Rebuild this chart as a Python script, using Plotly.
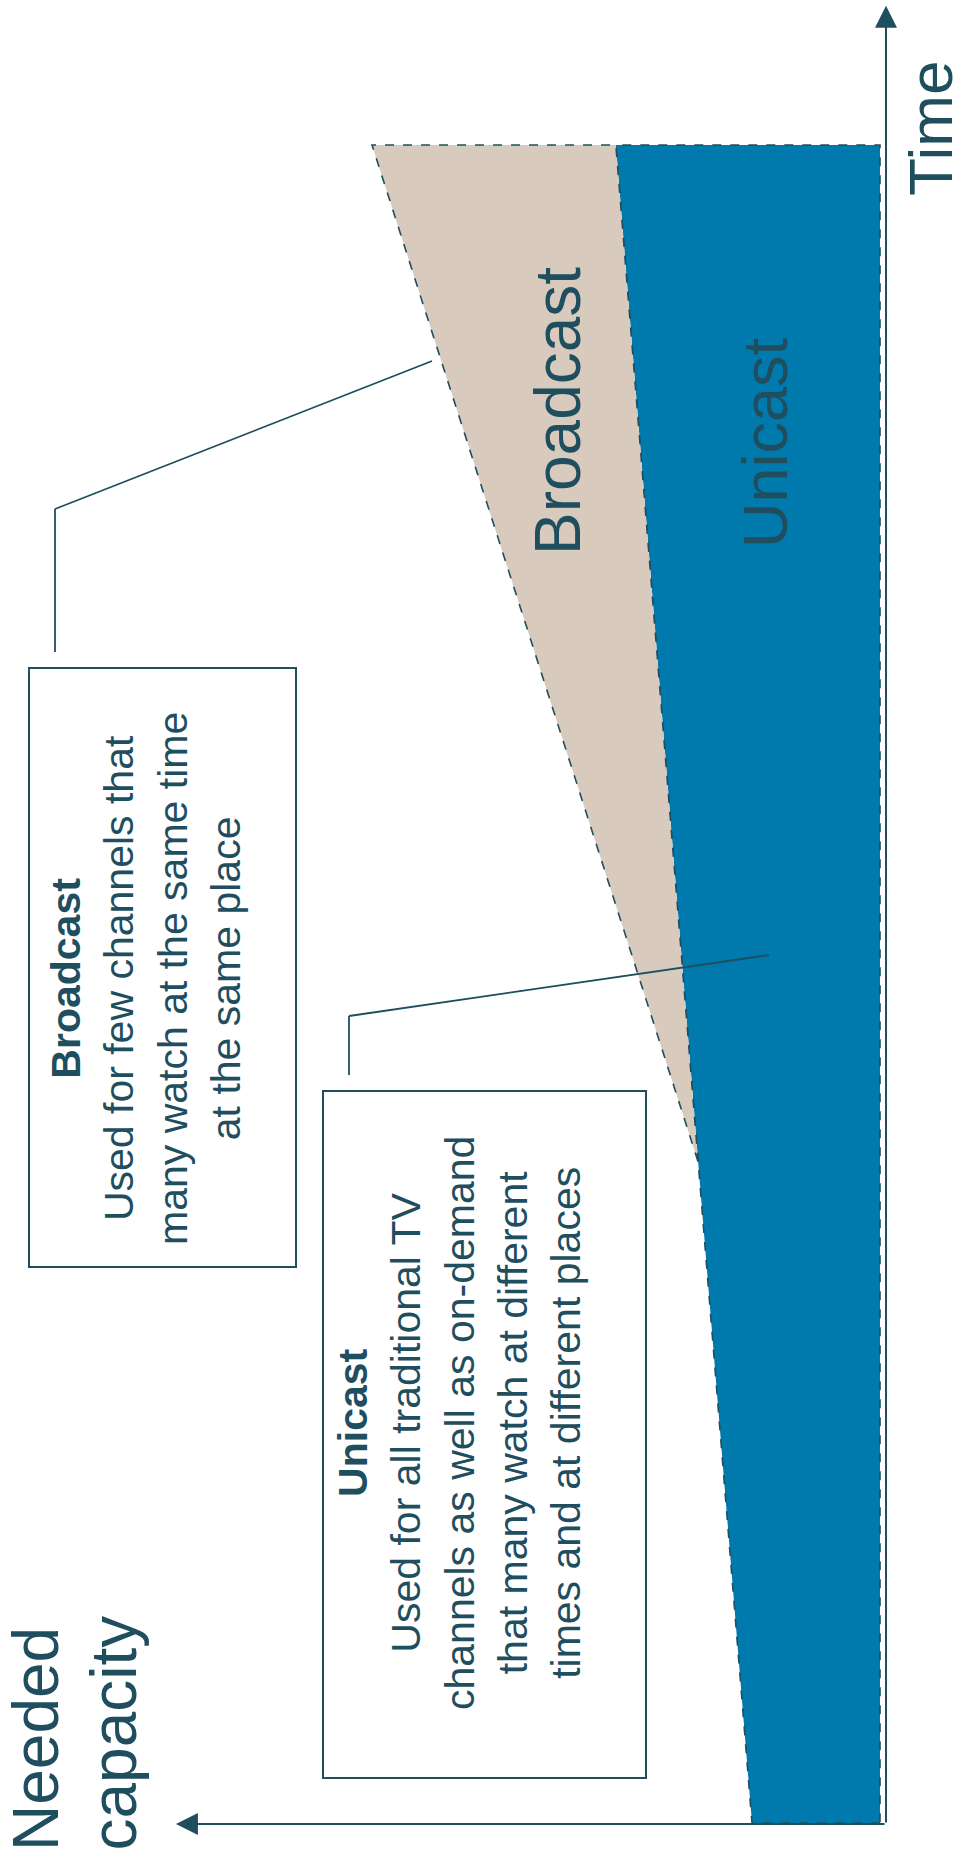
import plotly.graph_objects as go

# ---- data ----
time_pts = [0, 39.4, 100]          # time (bottom -> top)
unicast = [25.2, 35.8, 52.0]       # needed capacity for unicast
broadcast = [0, 0, 48.0]           # additional capacity for broadcast (stacked)

DARK = "#1F4E5F"
BLUE = "#0079AC"
BEIGE = "#D8CABD"
FONT = "Liberation Sans, Arial, sans-serif"

total = [u + b for u, b in zip(unicast, broadcast)]

fig = go.Figure()

# Unicast polygon: from capacity 0 to unicast boundary
ux = [0] + unicast + [0, 0]
uy = [time_pts[0]] + time_pts + [time_pts[-1], time_pts[0]]
fig.add_trace(go.Scatter(x=ux, y=uy, mode="lines", fill="toself", fillcolor=BLUE,
                         line=dict(color=DARK, width=1.6, dash="dash"), hoverinfo="skip",
                         showlegend=False))

# Broadcast polygon: from unicast boundary to total, starting at the kink
k = 1
bx = unicast[k:] + total[::-1][: len(time_pts) - k]
by = time_pts[k:] + time_pts[::-1][: len(time_pts) - k]
bx = bx + [bx[0]]
by = by + [by[0]]
fig.add_trace(go.Scatter(x=bx, y=by, mode="lines", fill="toself", fillcolor=BEIGE,
                         line=dict(color=DARK, width=1.6, dash="dash"), hoverinfo="skip",
                         showlegend=False))

ann = []
# axes arrows
ax0, ay0 = -1.18, -0.06
ann.append(dict(x=ax0, y=108.3, ax=ax0, ay=ay0, xref="x", yref="y", axref="x", ayref="y",
                text="", showarrow=True, arrowhead=2, arrowsize=2.2, arrowwidth=2,
                arrowcolor=DARK))
ann.append(dict(x=138.6, y=ay0, ax=ax0, ay=ay0, xref="x", yref="y", axref="x", ayref="y",
                text="", showarrow=True, arrowhead=2, arrowsize=2.2, arrowwidth=2,
                arrowcolor=DARK))

def txt(x, y, text, size, xanchor="center", yanchor="middle", align="center", color=DARK):
    return dict(x=x, y=y, xref="paper", yref="paper", text=text, textangle=-90,
                showarrow=False, xanchor=xanchor, yanchor=yanchor, align=align,
                font=dict(family=FONT, size=size, color=color))

# axis titles
ann.append(txt(931, 129, "Time", 62))
ann.append(txt(36, 1853, "Needed", 64, yanchor="bottom"))
ann.append(txt(113, 1853, "capacity", 64, yanchor="bottom"))

# in-area labels
ann.append(txt(558, 411, "Broadcast", 64))
ann.append(txt(765, 443, "Unicast", 63))

# box texts
ann.append(txt(146, 979,
               "<b>Broadcast</b><br>Used for few channels that<br>many watch at the same time<br>at the same place",
               41))
ann.append(txt(459, 1423,
               "<b>Unicast</b><br>Used for all traditional TV<br>channels as well as on-demand<br>that many watch at different<br>times and at different places",
               41))

W, H = 968, 1870
# convert paper-pixel annotations to paper fractions
for a in ann:
    if a.get("xref") == "paper":
        a["x"] = a["x"] / W
        a["y"] = 1 - a["y"] / H

shapes = []
def px(x0, y0, x1, y1, **kw):
    return dict(type=kw.get("type", "line"), xref="paper", yref="paper",
                x0=x0 / W, y0=1 - y0 / H, x1=x1 / W, y1=1 - y1 / H,
                line=dict(color=DARK, width=kw.get("width", 1.8)),
                fillcolor=kw.get("fill", "rgba(0,0,0,0)"), layer="above")

# boxes
shapes.append(px(29, 668, 296, 1267, type="rect", width=2))
shapes.append(px(323, 1091, 646, 1778, type="rect", width=2))
# callout lines
shapes.append(px(55, 652, 55, 509))
shapes.append(px(55, 509, 432, 361))
shapes.append(px(349, 1075, 349, 1016))
shapes.append(px(349, 1016, 769, 955))

fig.update_layout(
    width=W, height=H, margin=dict(l=0, r=0, t=0, b=0),
    paper_bgcolor="white", plot_bgcolor="white",
    xaxis=dict(range=[173.23, -17.32], visible=False, fixedrange=True),
    yaxis=dict(range=[-2.80, 108.64], visible=False, fixedrange=True),
    annotations=ann, shapes=shapes, showlegend=False,
)

fig.write_html("out.html")
